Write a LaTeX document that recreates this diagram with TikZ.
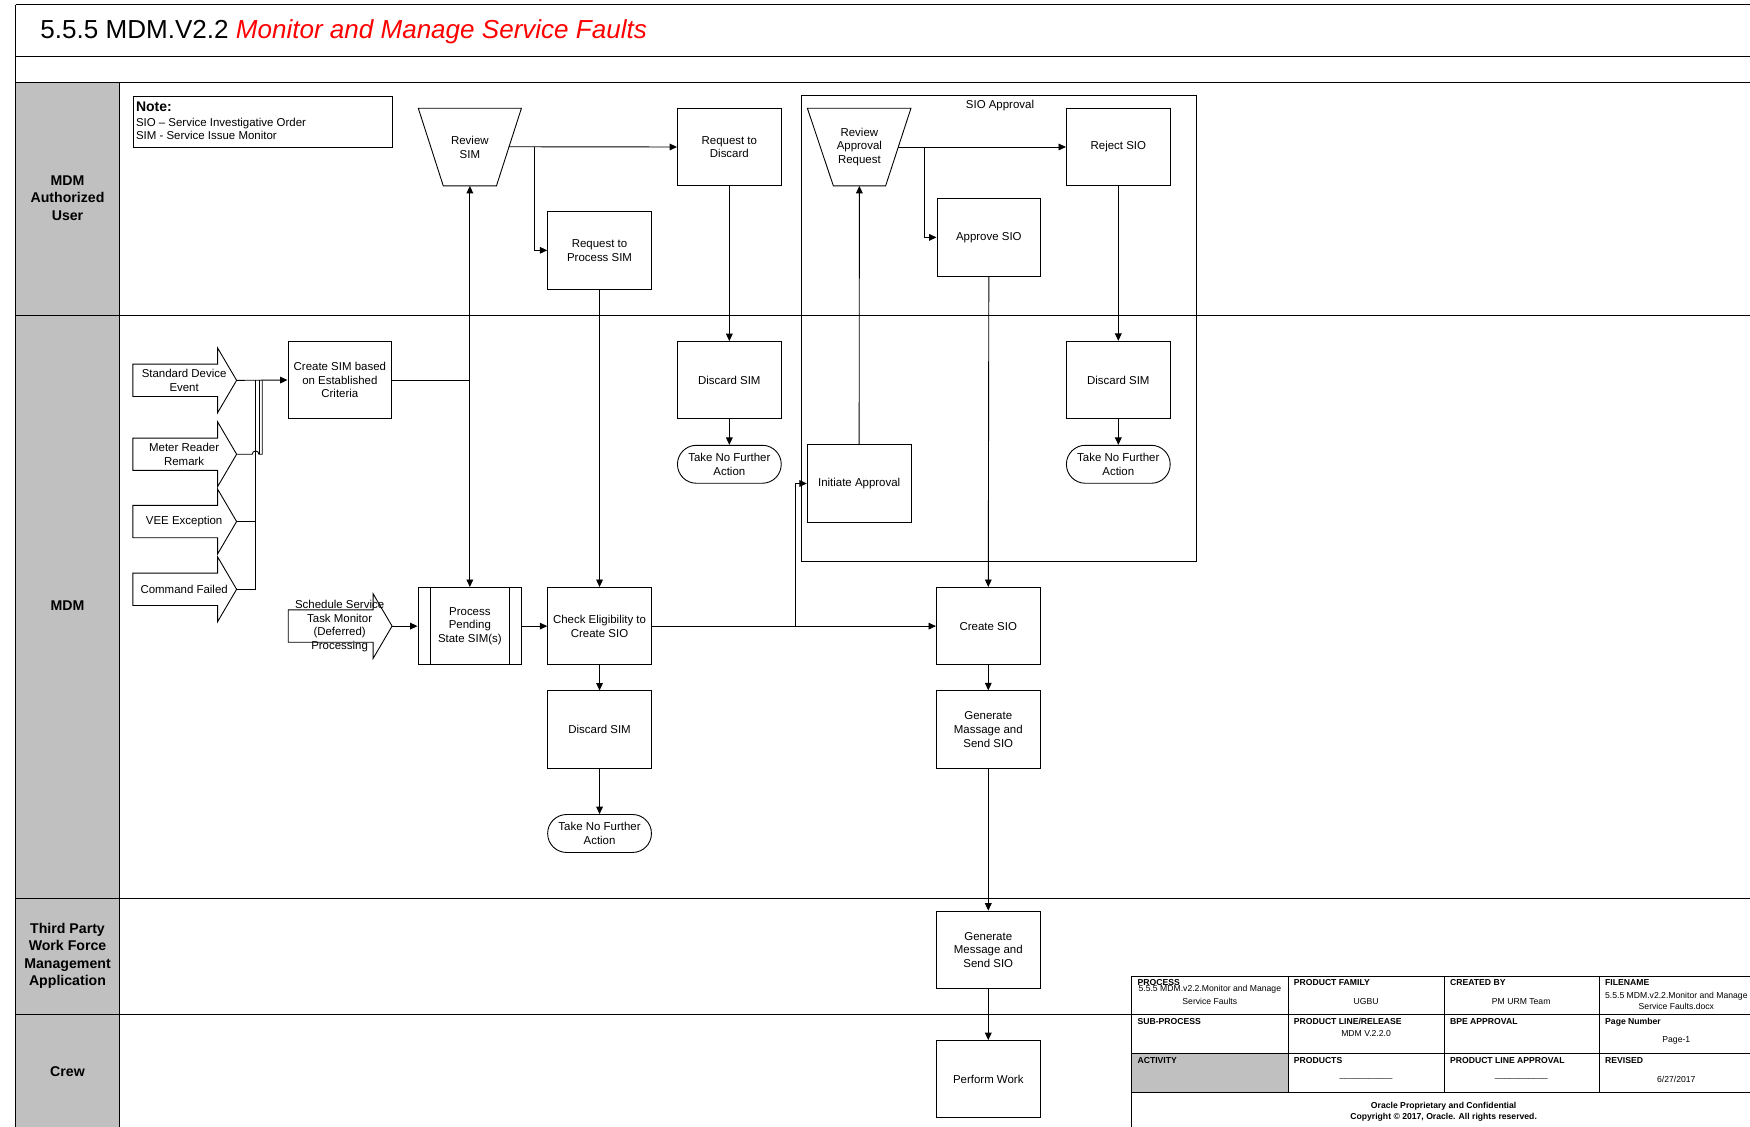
\documentclass[tikz,border=0pt]{standalone}
\usepackage{fontspec}
\setmainfont{Liberation Sans}
\usetikzlibrary{arrows.meta}
\definecolor{lanegray}{RGB}{192,192,192}
\newcommand{\blockarr}[4]{%
  \draw[plain, fill=white] (#2-46,#3-14.5) -- (#2+30,#3-14.5) -- (#2+30,#3-29) -- (#2+47,#3)
     -- (#2+30,#3+29) -- (#2+30,#3+14.5) -- (#2-46,#3+14.5) -- cycle;
  \node[txt] (#1) at (#2,#3) {#4};
  \coordinate (#1-tip) at (#2+47,#3);}
\begin{document}
\begin{tikzpicture}[x=0.75pt,y=-0.75pt,
  txt/.style={font=\fontsize{7.7}{9.2}\selectfont, align=center, inner sep=0pt},
  box/.style={txt, draw, fill=white, line width=0.6pt, minimum width=69.75pt, minimum height=52pt},
  term/.style={txt, draw, fill=white, line width=0.6pt, minimum width=69.75pt, minimum height=25.5pt, rounded corners=12.7pt},
  flow/.style={line width=0.6pt, -{Triangle[length=5pt,width=4.5pt]}},
  plain/.style={line width=0.6pt},
  lane/.style={line width=0.9pt},
  lanelbl/.style={font=\fontsize{9.5}{11.6}\selectfont\bfseries, align=center, inner sep=0pt},
  fthead/.style={font=\fontsize{5.8}{6.8}\selectfont\bfseries, anchor=north west, inner sep=0pt},
  ftval/.style={font=\fontsize{5.8}{8.6}\selectfont, align=center, inner sep=0pt},
  notetxt/.style={font=\fontsize{7.7}{9.2}\selectfont, anchor=base west, inner sep=0pt},
]
\useasboundingbox (0,0) rectangle (1568,1009);
\fill[white] (0,0) rectangle (1568,1009);
% frame and lanes
\fill[lanegray] (14,73.7) rectangle (107,1015);
\draw[lane] (14,4.2) -- (1580,4.2);
\draw[lane] (14,50.7) -- (1580,50.7);
\draw[lane] (14,73.7) -- (1580,73.7);
\draw[lane] (14,4.2) -- (14,1015);
\draw[lane] (107,73.7) -- (107,1015);
\draw[lane] (14,282.4) -- (1580,282.4);
\draw[lane] (14,805) -- (1580,805);
\draw[lane] (14,909.1) -- (1580,909.1);
% title
\node[anchor=base west, inner sep=0pt, font=\fontsize{17.5}{20}\selectfont] (title) at (36,34.3)
  {5.5.5 MDM.V2.2 \textcolor{red}{\itshape Monitor and Manage Service Faults}};
% lane labels
\node[lanelbl] (l1) at (60.5,177.5) {MDM\\Authorized\\User};
\node[lanelbl] (l2) at (60.5,543) {MDM};
\node[lanelbl] (l3) at (60.5,856.5) {Third Party\\Work Force\\Management\\Application};
\node[lanelbl] (l4) at (60.5,960) {Crew};
% note
\node[draw, line width=0.6pt, minimum width=174.3pt, minimum height=34.4pt, anchor=north west, inner sep=0pt] (note) at (118.8,85.7) {};
\node[notetxt, font=\fontsize{9.4}{11}\selectfont\bfseries] (note1) at (121.6,99.8) {Note:};
\node[notetxt] (note2) at (121.6,113.4) {SIO – Service Investigative Order};
\node[notetxt] (note3) at (121.6,125.4) {SIM - Service Issue Monitor};
% SIO approval group
\node[draw, line width=0.6pt, minimum width=265.7pt, minimum height=313pt, anchor=north west, inner sep=0pt] (grp) at (717.4,85.1) {};
\node[txt] (grplbl) at (896,95) {SIO Approval};
% trapezoids
\draw[plain, fill=white] (374.8,97) -- (467.2,97) -- (444.8,166.6) -- (397.2,166.6) -- cycle;
\node[txt] (rsim) at (421,131.8) {Review\\SIM};
\coordinate (rsim-e) at (456,131.5);
\coordinate (rsim-s) at (421,166.6);
\draw[plain, fill=white] (723.4,97) -- (816.2,97) -- (793.5,166.6) -- (746.7,166.6) -- cycle;
\node[txt] (rar) at (770,131.5) {Review\\Approval\\Request};
\coordinate (rar-e) at (804.8,131.7);
\coordinate (rar-s) at (770,166.6);
% boxes
\node[box] (rtd) at (653.5,131.7) {Request to\\Discard};
\node[box] (rtp) at (537.2,224.3) {Request to\\Process SIM};
\node[box] (rej) at (1002,131.7) {Reject SIO};
\node[box] (app) at (886,212.7) {Approve SIO};
\node[box] (csim) at (304.5,340.5) {Create SIM based\\on Established\\Criteria};
\node[box] (dsim1) at (653.5,340.7) {Discard SIM};
\node[term] (tnfa1) at (653.5,416) {Take No Further\\Action};
\node[box] (dsim2) at (1002,340.5) {Discard SIM};
\node[term] (tnfa2) at (1002,416) {Take No Further\\Action};
\node[box] (ia) at (769.8,433.2) {Initiate Approval};
\node[box] (pps) at (421,561) {Process\\Pending\\State SIM(s)};
\draw[plain] ([xshift=8.6pt]pps.north west) -- ([xshift=8.6pt]pps.south west);
\draw[plain] ([xshift=-8.6pt]pps.north east) -- ([xshift=-8.6pt]pps.south east);
\node[box] (ce) at (537.2,561) {Check Eligibility to\\Create SIO};
\node[box] (csio) at (885.5,561) {Create SIO};
\node[box] (dsim3) at (537.2,653.7) {Discard SIM};
\node[term] (tnfa3) at (537.2,746.8) {Take No Further\\Action};
\node[box] (gms1) at (885.5,653.6) {Generate\\Massage and\\Send SIO};
\node[box] (gms2) at (885.5,851) {Generate\\Message and\\Send SIO};
\node[box] (pw) at (885.5,967) {Perform Work};
% block arrows
\blockarr{sde}{165}{340.8}{Standard Device\\Event}
\blockarr{mrr}{165}{407}{Meter Reader\\Remark}
\blockarr{vee}{165}{467.3}{VEE Exception}
\blockarr{cmf}{165}{528}{Command Failed}
\blockarr{sched}{304.3}{561}{Schedule Service\\Task Monitor\\(Deferred)\\Processing}
% connectors on the left
\coordinate (jv) at (229,340.8);
\coordinate (jm) at (235,340.8);
\coordinate (jm2) at (232.4,340.8);
\coordinate (jm2b) at (232.4,407);
\draw[flow] (sde-tip) -- (csim.west);
\draw[plain] (mrr-tip) -- (226,407) arc[start angle=180, end angle=360, radius=3] -- (235,407) -- (jm);
\draw[plain] (jm2) -- (jm2b);
\draw[plain] (vee-tip) -| (jv);
\draw[plain] (cmf-tip) -| (jv);
\draw[flow] (sched-tip) -- (pps.west);
% main connectors
\coordinate (j1) at (421,340.5);
\draw[plain] (csim.east) -- (j1);
\draw[flow] (j1) -- (rsim-s);
\draw[flow] (j1) -- (pps.north);
\draw[flow] (rsim-e) -- (rtd.west);
\coordinate (b1) at (478.8,131.7);
\draw[flow] (b1) |- (rtp.west);
\draw[flow] (rtd.south) -- (dsim1.north);
\draw[flow] (dsim1.south) -- (tnfa1.north);
\draw[flow] (rtp.south) -- (ce.north);
\draw[flow] (rar-e) -- (rej.west);
\coordinate (b2) at (827.9,131.7);
\draw[flow] (b2) |- (app.west);
\draw[flow] (rej.south) -- (dsim2.north);
\draw[flow] (dsim2.south) -- (tnfa2.north);
\draw[flow] (ia.north) -- (rar-s);
\draw[flow] (app.south) -- (csio.north);
\draw[flow] (pps.east) -- (ce.west);
\draw[flow] (ce.east) -- (csio.west);
\coordinate (b3) at (712.3,561);
\draw[flow] (b3) |- (ia.west);
\draw[flow] (ce.south) -- (dsim3.north);
\draw[flow] (dsim3.south) -- (tnfa3.north);
\draw[flow] (csio.south) -- (gms1.north);
\draw[flow] (gms1.south) -- (gms2.north);
\draw[flow] (gms2.south) -- (pw.north);
% footer table
\fill[white] (1014,874.5) rectangle (1580,1015);
\fill[lanegray] (1014,944) rectangle (1154,978.5);
\draw[plain] (1014,1015) -- (1014,874.5) -- (1580,874.5);
\draw[plain] (1014,909.1) -- (1580,909.1);
\draw[plain] (1014,944) -- (1580,944);
\draw[plain] (1014,978.5) -- (1580,978.5);
\draw[plain] (1154,874.5) -- (1154,978.5);
\draw[plain] (1294,874.5) -- (1294,978.5);
\draw[plain] (1433,874.5) -- (1433,978.5);
\draw[plain] (1573,874.5) -- (1573,978.5);
\node[fthead] (h1) at (1019,877) {PROCESS};
\node[fthead] (h2) at (1159,877) {PRODUCT FAMILY};
\node[fthead] (h3) at (1299,877) {CREATED BY};
\node[fthead] (h4) at (1438,877) {FILENAME};
\node[fthead] (h5) at (1019,912) {SUB-PROCESS};
\node[fthead] (h6) at (1159,912) {PRODUCT LINE/RELEASE};
\node[fthead] (h7) at (1299,912) {BPE APPROVAL};
\node[fthead] (h8) at (1438,912) {Page Number};
\node[fthead] (h9) at (1019,947) {ACTIVITY};
\node[fthead] (h10) at (1159,947) {PRODUCTS};
\node[fthead] (h11) at (1299,947) {PRODUCT LINE APPROVAL};
\node[fthead] (h12) at (1438,947) {REVISED};
\node[ftval] (v1) at (1084,891.5) {5.5.5 MDM.v2.2.Monitor and Manage\\Service Faults};
\node[ftval] (v2) at (1224,897) {UGBU};
\node[ftval] (v3) at (1363,897) {PM URM Team};
\node[ftval, font=\fontsize{5.8}{7.5}\selectfont] (v4) at (1502,897) {5.5.5 MDM.v2.2.Monitor and Manage\\Service Faults.docx};
\node[ftval] (v5) at (1224,926) {MDM V.2.2.0};
\node[ftval] (v6) at (1502,932) {Page-1};
\node[ftval] (v7) at (1224,966) {\_\_\_\_\_\_\_\_\_\_\_};
\node[ftval] (v8) at (1363,966) {\_\_\_\_\_\_\_\_\_\_\_};
\node[ftval] (v9) at (1502,967) {6/27/2017};
\node[ftval, font=\fontsize{5.8}{7.5}\selectfont\bfseries] (v10) at (1293.5,996) {Oracle Proprietary and Confidential\\Copyright © 2017, Oracle. All rights reserved.};
\end{tikzpicture}
\end{document}
